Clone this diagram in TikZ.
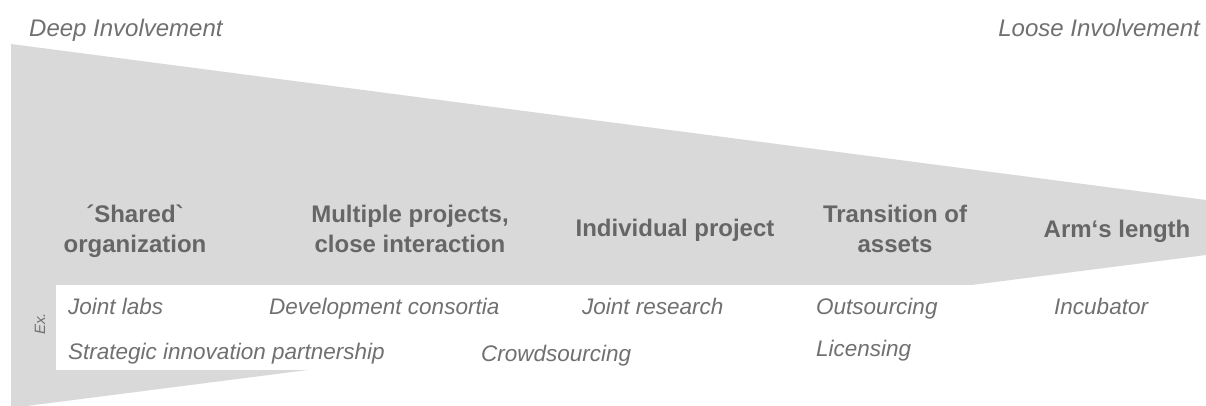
\documentclass[tikz,border=0pt]{standalone}
\usepackage{fontspec}
\setmainfont{Liberation Sans}[Ligatures=TeXOff]
\begin{document}
\definecolor{wedgefill}{RGB}{217,217,217}
\definecolor{headtext}{RGB}{102,102,102}
\definecolor{itemtext}{RGB}{112,112,112}
\begin{tikzpicture}[x=1pt,y=-1pt,
  head/.style={inner sep=0pt,anchor=base,text=headtext,font=\fontsize{24}{29}\selectfont\bfseries},
  pole/.style={inner sep=0pt,anchor=base west,text=itemtext,font=\fontsize{24}{29}\selectfont\itshape},
  item/.style={inner sep=0pt,anchor=base west,text=itemtext,font=\fontsize{22.5}{27}\selectfont\itshape}]
\useasboundingbox (0,0) rectangle (1206,406);

% tapering band from deep to loose involvement
\fill[wedgefill] (11,44) -- (1206,200) -- (1206,255) -- (11,408) -- cycle;
% panel holding the examples
\fill[white] (56,285) rectangle (975,370);

% poles of the scale
\node[pole] (deep) at (29,37) {Deep Involvement};
\node[pole,anchor=base east] (loose) at (1200,37) {Loose Involvement};

% forms of involvement
\node[head] (shareda) at (135,222) {´Shared`};
\node[head] (sharedb) at (135,252) {organization};
\node[head] (multia) at (410,222) {Multiple projects,};
\node[head] (multib) at (410,252) {close interaction};
\node[head] (indiv) at (675,236) {Individual project};
\node[head] (transa) at (895,222) {Transition of};
\node[head] (transb) at (895,252) {assets};
\node[head] (arm) at (1117,237) {Arm‘s length};

% examples
\node[inner sep=0pt,text=itemtext,font=\fontsize{15}{18}\selectfont\itshape,rotate=90] (ex) at (40,324) {Ex.};
\node[item] (labs) at (68,314) {Joint labs};
\node[item] (consort) at (269,314) {Development consortia};
\node[item] (research) at (582,314) {Joint research};
\node[item] (outsrc) at (816,314) {Outsourcing};
\node[item] (incub) at (1054,314) {Incubator};
\node[item] (strat) at (68,359) {Strategic innovation partnership};
\node[item] (crowd) at (481,361) {Crowdsourcing};
\node[item] (licens) at (816,356) {Licensing};
\end{tikzpicture}
\end{document}
